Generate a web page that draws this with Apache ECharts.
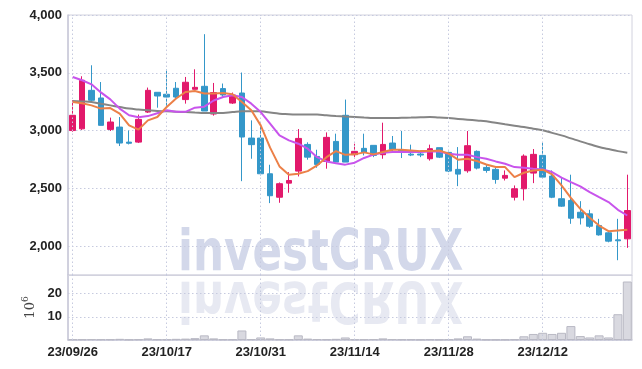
<!DOCTYPE html>
<html><head><meta charset="utf-8">
<script src="https://cdn.jsdelivr.net/npm/echarts@6/dist/echarts.min.js"></script>
<style>html,body{margin:0;padding:0;background:#fff}#c{width:642px;height:369px}</style>
</head><body><div id="c"></div>
<script>
const dates = ['23/09/26','23/09/27','23/10/04','23/10/05','23/10/06','23/10/10','23/10/11','23/10/12','23/10/13','23/10/16',
'23/10/17','23/10/18','23/10/19','23/10/20','23/10/23','23/10/24','23/10/25','23/10/26','23/10/27','23/10/30',
'23/10/31','23/11/01','23/11/02','23/11/03','23/11/06','23/11/07','23/11/08','23/11/09','23/11/10','23/11/13',
'23/11/14','23/11/15','23/11/16','23/11/17','23/11/20','23/11/21','23/11/22','23/11/23','23/11/24','23/11/27',
'23/11/28','23/11/29','23/11/30','23/12/01','23/12/04','23/12/05','23/12/06','23/12/07','23/12/08','23/12/11',
'23/12/12','23/12/13','23/12/14','23/12/15','23/12/18','23/12/19','23/12/20','23/12/21','23/12/22','23/12/26'];
const opens  = [3000,3015,3348,3282,3010,3030,2900,2900,3160,3331,3314,3366,3268,3357,3383,3143,3363,3238,3325,2935,
2935,2626,2423,2545,2649,2880,2776,2733,2906,3132,2791,2846,2872,2791,2892,2834,2796,2797,2756,2852,
2811,2664,2652,2820,2681,2664,2588,2423,2496,2632,2785,2606,2410,2395,2293,2279,2178,2115,2054,2063];
const closes = [3132,3435,3262,3045,3074,2892,2890,3097,3348,3299,3290,3290,3418,3374,3169,3329,3308,3308,2944,2878,
2626,2436,2540,2568,2932,2770,2707,2941,2727,2727,2820,2811,2785,2880,2837,2820,2788,2788,2843,2770,
2649,2623,2869,2675,2655,2577,2612,2496,2779,2794,2597,2423,2346,2241,2244,2172,2097,2043,2046,2308];
const lows   = [2990,3005,3247,3045,2996,2866,2880,2892,3152,3198,3198,3277,3233,3357,3169,3129,3290,3230,2562,2756,
2612,2372,2375,2462,2603,2748,2678,2670,2727,2727,2770,2785,2770,2756,2814,2762,2779,2770,2740,2762,
2640,2519,2635,2664,2635,2540,2568,2395,2395,2545,2583,2415,2340,2193,2187,2158,2091,2033,1878,1985];
const highs  = [3262,3470,3565,3420,3112,3117,3000,3138,3372,3331,3528,3420,3464,3530,3834,3412,3407,3329,3502,3088,
3051,2704,2551,2640,3013,2898,2834,2984,2973,3268,2886,2973,2872,3068,2953,2996,2878,2828,2878,2852,
2817,2857,2996,2828,2707,2684,2655,2525,2794,2840,2895,2655,2597,2618,2389,2314,2236,2126,2236,2618];
const ma5  = [3247,3236,3218,3190,3195,3146,3045,3008,3088,3117,3204,3277,3334,3342,3320,3320,3325,3314,3247,3175,
3045,2852,2690,2618,2626,2649,2698,2770,2822,2790,2794,2811,2794,2814,2834,2834,2828,2822,2822,2828,
2800,2748,2756,2736,2706,2684,2684,2597,2635,2655,2661,2620,2525,2418,2323,2245,2178,2129,2135,2141];
const ma10 = [3463,3435,3400,3330,3270,3190,3132,3115,3125,3150,3175,3163,3162,3198,3207,3260,3290,3305,3290,3233,
3160,3060,2958,2915,2886,2843,2770,2733,2718,2705,2722,2763,2792,2808,2814,2814,2814,2814,2818,2818,
2800,2791,2791,2770,2756,2733,2713,2684,2678,2670,2664,2641,2592,2554,2517,2468,2424,2381,2314,2265];
const maLong = [3256,3252,3247,3232,3218,3204,3190,3182,3175,3170,3166,3163,3160,3156,3152,3152,3152,3160,3166,3166,
3166,3156,3146,3142,3138,3138,3138,3132,3126,3121,3117,3112,3108,3108,3108,3110,3112,3115,3117,3112,
3108,3101,3094,3087,3080,3067,3054,3042,3030,3016,3002,2980,2958,2932,2906,2882,2857,2840,2822,2808];
const volumes = [0.3,0.3,0.4,0.3,0.3,0.5,0.2,0.3,0.7,0.3,0.3,0.5,0.6,0.8,2.0,0.7,0.3,0.3,4.1,0.4,
1.1,0.7,0.3,0.3,2.0,0.6,0.4,0.3,0.5,1.1,0.3,0.3,0.4,0.7,0.4,0.3,0.3,0.2,0.3,0.2,
0.3,0.7,1.6,0.6,0.2,0.2,0.2,0.3,1.6,2.6,3.1,2.6,3.1,6.0,1.7,1.1,2.0,1.1,11.1,25.2];
const priceTicks = [2000,2500,3000,3500,4000];
const volTicks = [10,20];
const labelDates = dates.filter((d,i)=>i%10===0);

const FONT = "'Liberation Sans',Arial,sans-serif";
const WM_FONT = "bold 57px 'DejaVu Sans Condensed','DejaVu Sans',sans-serif";
const gridCol = '#c6cadf';
const dotted = {color: gridCol, type: [1.5, 2.5], width: 1};
const candleData = opens.map((o,i)=>[o, closes[i], lows[i], highs[i]]);
const fmt = v => String(v).replace(/\B(?=(\d{3})+(?!\d))/g, ',');
const labelStyle = {color:'#222', fontFamily:FONT, fontSize:13, fontWeight:'bold'};

const chart = echarts.init(document.getElementById('c'));
chart.setOption({
  animation: false,
  backgroundColor: '#fff',
  graphic: [
    {type:'text', x:178, y:284, scaleX:0.85, z:0, silent:true,
     style:{text:'investCRUX', x:0, y:0, font:WM_FONT, fill:'#d3d8ea', textVerticalAlign:'bottom'}},
    {type:'text', x:178, y:268, scaleX:0.85, scaleY:-1, z:0, silent:true,
     style:{text:'investCRUX', x:0, y:0, font:WM_FONT, fill:'#e7e9f2', textVerticalAlign:'bottom'}}
  ],
  grid: [
    {left:68, right:10, top:15, height:260, show:true, borderColor:'#d2d2de', borderWidth:1},
    {left:68, right:10, top:275, height:65, show:true, borderColor:'#d2d2de', borderWidth:1}
  ],
  xAxis: [
    {type:'category', gridIndex:0, data:dates, boundaryGap:true,
     axisLine:{show:true, lineStyle:{color:'#d2d2de'}}, axisTick:{show:false}, axisLabel:{show:false}, splitLine:{show:false}},
    {type:'category', gridIndex:1, data:dates, boundaryGap:true,
     axisLine:{show:true, lineStyle:{color:'#c8c8d8', width:1.5}}, axisTick:{show:false},
     axisLabel:Object.assign({interval:9, margin:6}, labelStyle), splitLine:{show:false}}
  ],
  yAxis: [
    {type:'value', gridIndex:0, min:1750, max:4000, splitNumber:5,
     axisLine:{show:true, lineStyle:{color:'#c8c8d8', width:1.5}}, axisTick:{show:false},
     axisLabel:Object.assign({margin:6, formatter: v => priceTicks.includes(v) ? fmt(v) : ''}, labelStyle),
     splitLine:{show:true, lineStyle:dotted}},
    {type:'value', gridIndex:1, min:0, max:28, splitNumber:3,
     name:'{a|10}{b|6}', nameLocation:'middle', nameGap:25, nameRotate:90,
     nameTextStyle:{rich:{a:{fontFamily:"'DejaVu Serif',serif", fontSize:13, color:'#444'}, b:{fontFamily:"'DejaVu Serif',serif", fontSize:9, color:'#444', verticalAlign:'top', padding:[0,0,8,0]}}},
     axisLine:{show:true, lineStyle:{color:'#c8c8d8', width:1.5}}, axisTick:{show:false},
     axisLabel:Object.assign({margin:6, formatter: v => volTicks.includes(v) ? String(v) : ''}, labelStyle),
     splitLine:{show:true, lineStyle:dotted}}
  ],
  series: [
    {type:'line', xAxisIndex:0, yAxisIndex:0, data:dates.map(()=>null), z:1, silent:true, symbol:'none',
     markLine:{silent:true, symbol:'none', label:{show:false}, lineStyle:dotted, animation:false,
       data: labelDates.map(d=>({xAxis:d}))}},
    {type:'line', xAxisIndex:1, yAxisIndex:1, data:dates.map(()=>null), z:1, silent:true, symbol:'none',
     markLine:{silent:true, symbol:'none', label:{show:false}, lineStyle:dotted, animation:false,
       data: labelDates.map(d=>({xAxis:d}))}},
    {type:'candlestick', xAxisIndex:0, yAxisIndex:0, data:candleData, barWidth:6, z:3,
     itemStyle:{color:'#e2196b', color0:'#3497c9', borderColor:'#e2196b', borderColor0:'#3497c9', borderWidth:1}},
    {type:'line', xAxisIndex:0, yAxisIndex:0, data:maLong, symbol:'none', smooth:true, z:4,
     lineStyle:{color:'#858585', width:2}},
    {type:'line', xAxisIndex:0, yAxisIndex:0, data:ma10, symbol:'none', z:5,
     lineStyle:{color:'#c854ec', width:2}},
    {type:'line', xAxisIndex:0, yAxisIndex:0, data:ma5, symbol:'none', z:6,
     lineStyle:{color:'#ec8048', width:2}},
    {type:'bar', xAxisIndex:1, yAxisIndex:1, data:volumes, barWidth:9, z:3,
     itemStyle:{color:'#d9d9e0', borderColor:'#b9b9c4', borderWidth:1}}
  ]
});
</script></body></html>
